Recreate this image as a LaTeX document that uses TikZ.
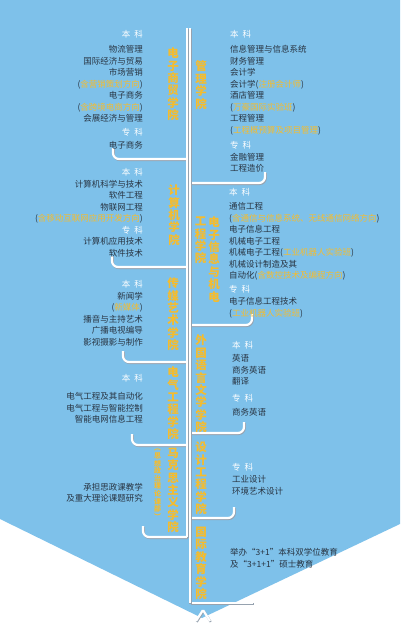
\documentclass[tikz,border=0pt]{standalone}
\usepackage{fontspec}
\setmainfont{Noto Sans CJK SC}
\usepackage{tikz}
\definecolor{PanelBlue}{RGB}{126, 193, 234}
\definecolor{NameYellow}{RGB}{245, 188, 45}
\definecolor{ItemDark}{RGB}{40, 52, 66}
\definecolor{LineShade}{RGB}{150, 162, 175}

\newcommand{\lvl}[1]{\textcolor{white}{#1}}
\newcommand{\yel}[1]{\textcolor{NameYellow}{#1}}

\tikzset{
  branch/.style={draw=white, line width=2.2pt, rounded corners=6pt,
    preaction={draw=LineShade, line width=2.2pt, transform canvas={xshift=0.7pt, yshift=-0.9pt}}},
  college/.style={anchor=north, inner sep=0pt, align=center, text=NameYellow,
    font=\fontsize{11.5}{12.4}\selectfont\bfseries},
  note/.style={college, font=\fontsize{7}{7.6}\selectfont\bfseries},
  leftlist/.style={anchor=north east, inner sep=0pt, align=right, text=ItemDark,
    font=\fontsize{8.5}{11.5}\selectfont},
  rightlist/.style={leftlist, anchor=north west, align=left},
}

\begin{document}
\begin{tikzpicture}[x=1pt, y=-1pt]
    % Background
    \useasboundingbox (0,0) rectangle (400,640);
    \fill[PanelBlue] (0,0) -- (400,0) -- (400,524) -- (202,618) -- (0,519) -- cycle;

    % Branches, left side
    \foreach \xe/\yb in {113/159, 112/267, 123/362, 132/445, 143/537}
      \draw[branch] (\xe,\yb-11) -- (\xe,\yb) -- (187.2,\yb);
    % Branches, right side
    \foreach \xe/\yb in {265/183, 252/325, 244/433, 234/518}
      \draw[branch] (189.8,\yb) -- (\xe,\yb) -- (\xe,\yb-11);
    \draw[branch] (189.8,603) -- (253,603);

    % Trunk
    \coordinate (trunk-l) at (187.2,28);
    \coordinate (trunk-r) at (189.8,28);
    \draw[branch] (trunk-l) -- (187.2,537);
    \draw[branch] (trunk-r) -- (189.8,603);
    \draw[branch, rounded corners=1pt] (196,621) -- (203,610) -- (210,621);

    % Colleges, left column
    \node[college] (ecom) at (173,47.8) {电\\子\\商\\贸\\学\\院};
    \node[college] (cs) at (174,184.8) {计\\算\\机\\学\\院};
    \node[college] (media) at (173,277.8) {传\\媒\\艺\\术\\学\\院};
    \node[college] (elec) at (173,366.8) {电\\气\\工\\程\\学\\院};
    \node[college] (marx) at (173,447.8) {马\\克\\思\\主\\义\\学\\院};
    \node[note] (marx-note) at (157.5,449) {︵\\思\\想\\政\\治\\理\\论\\课\\部\\︶};

    % Colleges, right column
    \node[college] (mgmt) at (201,60.8) {管\\理\\学\\院};
    \node[college] (eie) at (214,216.8) {电\\子\\信\\息\\与\\机\\电};
    \node[college] (eie-b) at (200.5,216.8) {工\\程\\学\\院};
    \node[college] (lang) at (201,334.8) {外\\国\\语\\言\\文\\学\\学\\院};
    \node[college] (design) at (201,441.8) {设\\计\\工\\程\\学\\院};
    \node[college] (intl) at (201,526.8) {国\\际\\教\\育\\学\\院};

    % Majors, left column
    \node[leftlist] (ecom-list) at (143,30.3) {\lvl{本\hspace{4pt}科}\\[3.5pt]
      物流管理\\ 国际经济与贸易\\ 市场营销\\ (\yel{含营销策划方向})\\
      电子商务\\ (\yel{含跨境电商方向})\\ 会展经济与管理\\[2.5pt]
      \lvl{专\hspace{4pt}科}\\[1.5pt] 电子商务};
    \node[leftlist] (cs-list) at (143,168.3) {\lvl{本\hspace{4pt}科}\\
      计算机科学与技术\\ 软件工程\\ 物联网工程\\ (\yel{含移动互联网应用开发方向})\\
      \lvl{专\hspace{4pt}科}\\ 计算机应用技术\\ 软件技术};
    \node[leftlist] (media-list) at (143,280.3) {\lvl{本\hspace{4pt}科}\\
      新闻学\\ (\yel{新媒体})\\ 播音与主持艺术\\ 广播电视编导\\ 影视摄影与制作};
    \node[leftlist] (elec-list) at (143,374.3) {\lvl{本\hspace{4pt}科}\\[6.5pt]
      电气工程及其自动化\\ 电气工程与智能控制\\ 智能电网信息工程};
    \node[leftlist] (marx-list) at (143,483.3) {承担思政课教学\\[-0.8pt] 及重大理论课题研究};

    % Majors, right column
    \node[rightlist] (mgmt-list) at (230,30.3) {\lvl{本\hspace{4pt}科}\\[3.5pt]
      信息管理与信息系统\\ 财务管理\\ 会计学\\ 会计学(\yel{注册会计师})\\
      酒店管理\\ (\yel{万豪国际实验班})\\ 工程管理\\ (\yel{工程概预算及项目管理})\\[3.5pt]
      \lvl{专\hspace{4pt}科}\\[0.5pt] 金融管理\\ 工程造价};
    \node[rightlist] (eie-list) at (229,188.3) {\lvl{本\hspace{4pt}科}\\[2.5pt]
      通信工程\\ (\yel{含通信与信息系统、无线通信网络方向})\\ 电子信息工程\\
      机械电子工程\\ 机械电子工程(\yel{工业机器人实验班})\\ 机械设计制造及其\\
      自动化(\yel{含数控技术及编程方向})\\[2.5pt]
      \lvl{专\hspace{4pt}科}\\[0.5pt] 电子信息工程技术\\[0.5pt] (\yel{工业机器人实验班})};
    \node[rightlist] (lang-list) at (232,341.3) {\lvl{本\hspace{4pt}科}\\[1.5pt]
      英语\\ 商务英语\\ 翻译\\[5.5pt] \lvl{专\hspace{4pt}科}\\[2.5pt] 商务英语};
    \node[rightlist] (design-list) at (232,463.3) {\lvl{专\hspace{4pt}科}\\[0.5pt]
      工业设计\\ 环境艺术设计};
    \node[rightlist] (intl-list) at (230,548.3) {举办“3+1”本科双学位教育\\
      及“3+1+1”硕士教育};
  \end{tikzpicture}
\end{document}
